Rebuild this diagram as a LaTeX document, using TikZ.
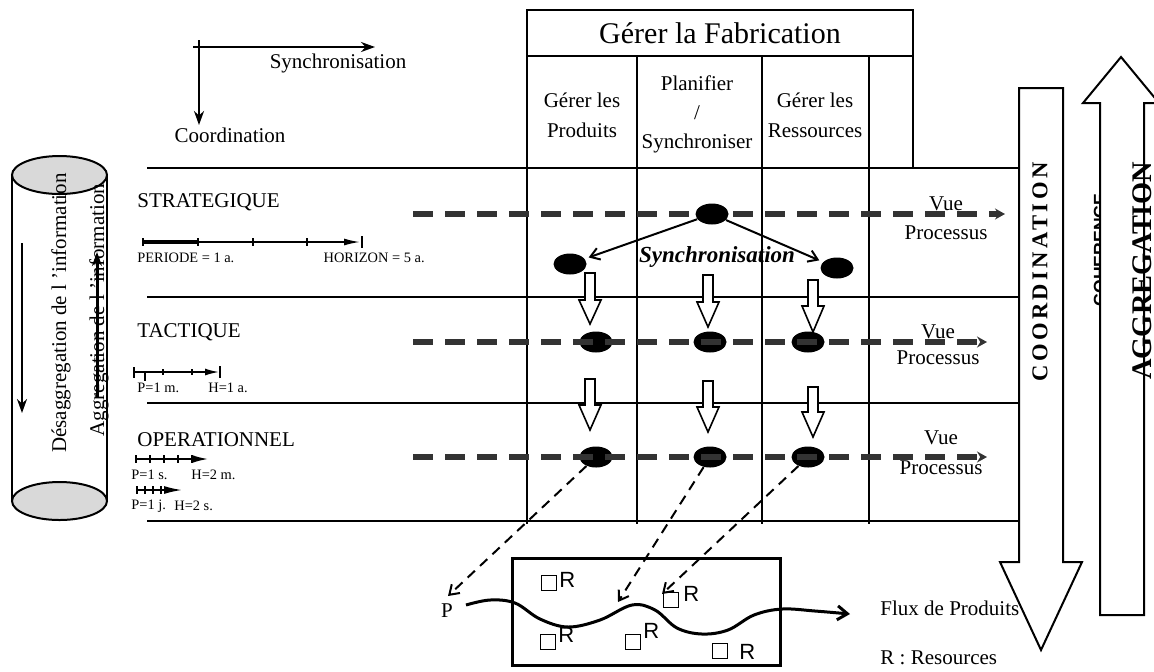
\documentclass[tikz,border=0pt]{standalone}
\usepackage{fontspec}
\setmainfont{Liberation Serif}
\newfontfamily\sansR{Liberation Sans}
\newfontfamily\spacedserif[LetterSpace=15]{Liberation Serif}
\usetikzlibrary{arrows.meta,shapes.geometric}

% hollow downward block arrow: centre x, top y, head base y, tip y
\newcommand\hollowdown[4]{%
  \draw[hollow] (#1-5,#2) -- (#1+5,#2) -- (#1+5,#3) -- (#1+11,#3) -- (#1,#4)
    -- (#1-11,#3) -- (#1-5,#3) -- cycle;}

\begin{document}
\begin{tikzpicture}[x=0.5pt,y=-0.5pt,
  base/.style={inner sep=0pt, font=\fontsize{10.5}{15}\selectfont},
  tiny/.style={inner sep=0pt, font=\fontsize{7.2}{8}\selectfont},
  grid/.style={line width=0.8pt},
  dot/.style={ellipse, fill=black, minimum width=16.5pt, minimum height=10.5pt, inner sep=0pt},
  procline/.style={line width=2.6pt, draw=black!80, dash pattern=on 10pt off 6pt,
    -{Stealth[length=5pt,width=5.5pt]}},
  syncarrow/.style={line width=1pt, -{Straight Barb[length=4.5pt,width=6pt]}, shorten >=2pt},
  linkarrow/.style={line width=1pt, dash pattern=on 5pt off 3.5pt,
    -{Straight Barb[length=4.5pt,width=6pt]}},
  hollow/.style={draw, fill=white, line width=0.8pt},
  axis/.style={line width=1.3pt, -{Stealth[length=7pt,width=5pt]}},
  tick/.style={line width=0.8pt},
  sq/.style={draw, line width=0.7pt, minimum size=7.5pt, inner sep=0pt},
  rlab/.style={inner sep=0pt, font=\sansR\fontsize{11}{13}\selectfont},
]
\useasboundingbox (0,0) rectangle (1154,671);

% ---------- information cylinder ----------
\draw[line width=1pt] (12,175) -- (12,501) (107,175) -- (107,501);
\draw[line width=1pt, fill=black!15] (59.5,501) ellipse [x radius=23.75pt, y radius=9.5pt];
\draw[line width=1pt, fill=black!15] (59.5,175) ellipse [x radius=23.75pt, y radius=9.5pt];
\node[base, rotate=90] (desagg) at (61,313) {Désaggregation de l 'information};
\node[base, rotate=90] (aggr) at (99,310) {Aggregation de l 'information};
\coordinate (dnA) at (22,243); \coordinate (dnB) at (22,413);
\draw[line width=1pt, -{Stealth[length=7pt,width=5pt]}] (dnA) -- (dnB);
\coordinate (upA) at (97,398); \coordinate (upB) at (97,252);
\draw[line width=1.5pt, -{Stealth[length=7pt,width=5pt]}] (upA) -- (upB);

% ---------- direction axes ----------
\coordinate (axO) at (193,47); \coordinate (axR) at (375,47);
\coordinate (axT) at (199,40); \coordinate (axD) at (199,125);
\draw[axis] (axO) -- (axR);
\draw[axis] (axT) -- (axD);
\node[base] (lsync) at (338,63) {Synchronisation};
\node[base] (lcoord) at (230,135) {Coordination};

% ---------- table ----------
\draw[grid] (527,10) rectangle (913,56);
\node[base, font=\fontsize{15}{18}\selectfont] (hdr) at (720,33) {Gérer la Fabrication};
\draw[grid] (913,56) -- (913,168);
\foreach \cx in {527,637,762,869} \draw[grid] (\cx,56) -- (\cx,524);
\foreach \ry in {168,297,403,521} \draw[grid] (147,\ry) -- (1018,\ry);
\node[base, align=center] (cP) at (582,115) {Gérer les\\Produits};
\node[base, align=center, font=\fontsize{10.5}{14.5}\selectfont] (cS) at (697,114) {Planifier\\/\\Synchroniser};
\node[base, align=center] (cR) at (815,115) {Gérer les\\Ressources};

% ---------- level labels ----------
\node[base, anchor=west] (lstrat) at (137,202) {STRATEGIQUE};
\node[base, anchor=west] (ltact) at (137,332) {TACTIQUE};
\node[base, anchor=west] (lop) at (137,440) {OPERATIONNEL};

% strategic time scale
\draw[line width=1.6pt] (143,242) -- (198,242);
\draw[tick, -{Latex[length=8pt,width=3.5pt]}] (198,242) -- (360,242);
\foreach \tx in {143,198,253,307} \draw[tick] (\tx,238) -- (\tx,246);
\draw[tick] (362,236) -- (362,248);
\node[tiny, anchor=west] (per1) at (137,258) {PERIODE = 1 a.};
\node[tiny, anchor=east] (hor1) at (425,258) {HORIZON = 5 a.};

% tactical time scale
\draw[tick, -{Latex[length=7pt,width=3.5pt]}] (134,372) -- (219,372);
\draw[tick] (134,367) -- (134,378) (145,372) -- (145,381) (163,369) -- (163,375)
  (192,369) -- (192,375) (220,366) -- (220,378);
\node[tiny, anchor=west] (per2) at (137,388) {P=1 m.};
\node[tiny, anchor=west] (hor2) at (208,388) {H=1 a.};

% operational time scales
\draw[tick, -{Latex[length=8pt,width=4pt]}] (136,459) -- (208,459);
\foreach \tx in {136,150,164,178,192} \draw[tick] (\tx,455) -- (\tx,463);
\node[tiny, anchor=west] (per3) at (131,475) {P=1 s.};
\node[tiny, anchor=west] (hor3) at (191,475) {H=2 m.};
\draw[tick, -{Latex[length=9pt,width=4pt]}] (136,490) -- (182,490);
\foreach \tx in {137,145,153,161} \draw[tick] (\tx,486) -- (\tx,494);
\node[tiny, anchor=west] (per4) at (131,506) {P=1 j.};
\node[tiny, anchor=west] (hor4) at (174,506) {H=2 s.};

% ---------- process views ----------
\coordinate (pa1) at (413,214); \coordinate (pb1) at (1005,214);
\draw[procline] (pa1) -- (pb1);
\node[dot] (s2) at (712,214) {};
\node[dot] (s1) at (570,264) {};
\node[dot] (s3) at (837,268) {};
\draw[syncarrow] (s2) -- (s1);
\draw[syncarrow] (s2) -- (s3);
\node[inner sep=0pt, font=\bfseries\itshape\fontsize{11.5}{13}\selectfont] (lsyn) at (717,257) {Synchronisation};

\node[dot] (t1) at (596,342) {};
\node[dot] (t2) at (710,342) {};
\node[dot] (t3) at (808,342) {};
\coordinate (pa2) at (413,342); \coordinate (pb2) at (987,342);
\draw[procline] (pa2) -- (pb2);

\node[dot] (o1) at (596,457) {};
\node[dot] (o2) at (710,457) {};
\node[dot] (o3) at (808,457) {};
\coordinate (pa3) at (413,457); \coordinate (pb3) at (987,457);
\draw[procline] (pa3) -- (pb3);

\node[base, align=center, font=\fontsize{10.5}{14.5}\selectfont] (v1) at (946,218) {Vue\\Processus};
\node[base, align=center, font=\fontsize{10.5}{13}\selectfont] (v2) at (938,345) {Vue\\Processus};
\node[base, align=center, font=\fontsize{10.5}{15}\selectfont] (v3) at (941,453) {Vue\\Processus};

% decomposition between levels
\hollowdown{590}{273}{300}{324}
\hollowdown{708}{275}{302}{327}
\hollowdown{813}{280}{306}{332}
\hollowdown{590}{379}{405}{430}
\hollowdown{708}{381}{407}{432}
\hollowdown{813}{387}{412}{437}

% ---------- physical system ----------
\draw[line width=1.5pt] (512,558) rectangle (780,665);
\node[sq] (r1) at (549,583) {}; \node[rlab, anchor=west] (r1l) at (559,580) {R};
\node[sq] (r2) at (671,600) {}; \node[rlab, anchor=west] (r2l) at (683,594) {R};
\node[sq] (r3) at (548,642) {}; \node[rlab, anchor=west] (r3l) at (558,635) {R};
\node[sq] (r4) at (633,642) {}; \node[rlab, anchor=west] (r4l) at (643,631) {R};
\node[sq] (r5) at (720,651) {}; \node[rlab, anchor=west] (r5l) at (739,652) {R};

\node[base] (P) at (447,611) {P};
\coordinate (fs) at (466,605);
\coordinate (fe) at (850,614);
\draw[line width=1.5pt, -{Straight Barb[length=5pt,width=7pt]}]
  plot[smooth, tension=0.6] coordinates {(fs) (490,600) (515,603) (540,619) (568,627)
    (600,620) (632,605) (655,610) (677,628) (702,634) (728,630) (754,615) (782,609) (815,611) (fe)};
\node[base, anchor=west] (flux) at (880,608) {Flux de Produits};
\node[base, anchor=west] (rleg) at (880,658) {R : Resources};

\coordinate (k1) at (448,596);
\coordinate (k2) at (618,602);
\coordinate (k3) at (662,594);
\draw[linkarrow] (o1) -- (k1);
\draw[linkarrow] (o2) -- (k2);
\draw[linkarrow] (o3) -- (k3);

% ---------- coordination / aggregation arrows ----------
\draw[line width=1pt, fill=white] (1019,88) -- (1063,88) -- (1063,562) -- (1082,562)
  -- (1041,650) -- (1000,562) -- (1019,562) -- cycle;
\node[inner sep=0pt, rotate=90, font=\spacedserif\bfseries\fontsize{11.3}{13}\selectfont] (lcoo) at (1040,272) {COORDINATION};

\node[inner sep=0pt, rotate=90, font=\sansR\bfseries\fontsize{8.8}{10}\selectfont] (lcoh) at (1100,250) {COHERENCE};
\draw[line width=1pt, fill=white] (1100,615) -- (1100,103) -- (1083,103) -- (1121,57)
  -- (1159,103) -- (1144,103) -- (1144,615) -- cycle;
\node[inner sep=0pt, rotate=90, font=\bfseries\fontsize{14.2}{16}\selectfont] (lagg) at (1142,271) {AGGREGATION};
\end{tikzpicture}
\end{document}
